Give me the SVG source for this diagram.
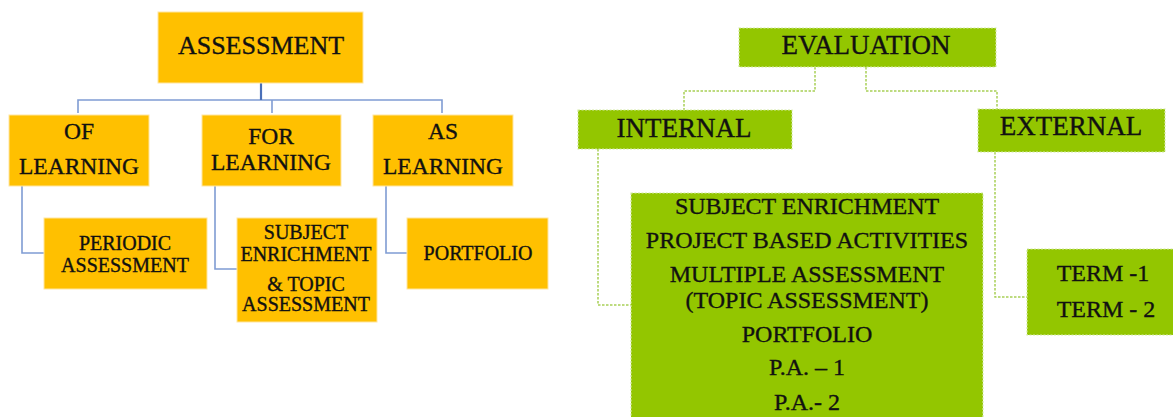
<svg xmlns="http://www.w3.org/2000/svg" width="1173" height="417" viewBox="0 0 1173 417">
<style>
.o{fill:#FFC000;stroke:#ffe6a0;stroke-width:1}
.g{fill:#93C600;stroke:#d4e9a4;stroke-width:1.2;stroke-dasharray:2 1.5}
.t{font-family:"Liberation Serif","Times New Roman",serif;fill:#111;stroke:#111;stroke-width:0.35;text-anchor:middle}
.bl{fill:none;stroke:#7F9CD3;stroke-width:1.6}
.gl{fill:none;stroke:#A8CF55;stroke-width:1.5;stroke-dasharray:2.5 1.5}
</style>
<rect width="1173" height="417" fill="#fff"/>
<g id="connectors">
<path class="bl" d="M78,113 V100 H442 V113"/>
<path class="bl" d="M272,100 V113"/>
<path d="M261,83 V100" fill="none" stroke="#4A6FB8" stroke-width="2.2"/>
<path class="bl" d="M22,186 V253 H44"/>
<path class="bl" d="M215,186 V269 H237"/>
<path class="bl" d="M386,186 V253 H407"/>
<path class="gl" d="M815,67 V91 H684 V110"/>
<path class="gl" d="M866,67 V91 H997 V109"/>
<path class="gl" d="M598,149 V305 H631"/>
<path class="gl" d="M995,152 V297 H1027"/>
</g>
<g id="assessment"><rect class="o" x="158" y="12" width="205" height="71"/><text class="t" x="261" y="54" font-size="26">ASSESSMENT</text></g>
<g id="of-learning"><rect class="o" x="9" y="115" width="140" height="71"/><text class="t" x="79" y="139" font-size="23.5">OF</text><text class="t" x="79" y="174" font-size="23.5">LEARNING</text></g>
<g id="for-learning"><rect class="o" x="202" y="115" width="139" height="71"/><text class="t" x="271" y="144" font-size="23.5">FOR</text><text class="t" x="271" y="170" font-size="23.5">LEARNING</text></g>
<g id="as-learning"><rect class="o" x="373" y="115" width="140" height="71"/><text class="t" x="443" y="139" font-size="23.5">AS</text><text class="t" x="443" y="174" font-size="23.5">LEARNING</text></g>
<g id="periodic"><rect class="o" x="44" y="218" width="163" height="71"/><text class="t" x="125" y="250" font-size="20">PERIODIC</text><text class="t" x="125" y="272" font-size="20">ASSESSMENT</text></g>
<g id="subject-enrichment"><rect class="o" x="237" y="218" width="140" height="104"/><text class="t" x="306" y="239" font-size="20">SUBJECT</text><text class="t" x="306" y="261" font-size="20">ENRICHMENT</text><text class="t" x="306" y="291" font-size="20">&amp; TOPIC</text><text class="t" x="306" y="311" font-size="20">ASSESSMENT</text></g>
<g id="portfolio"><rect class="o" x="407" y="218" width="141" height="71"/><text class="t" x="478" y="260" font-size="20">PORTFOLIO</text></g>
<g id="evaluation"><rect class="g" x="739" y="28" width="257" height="39"/><text class="t" x="866" y="54" font-size="27">EVALUATION</text></g>
<g id="internal"><rect class="g" x="578" y="110" width="214" height="39"/><text class="t" x="684" y="137" font-size="27">INTERNAL</text></g>
<g id="external"><rect class="g" x="978" y="109" width="187" height="43"/><text class="t" x="1071" y="135" font-size="27">EXTERNAL</text></g>
<g id="internal-list"><rect class="g" x="631" y="193" width="352" height="230"/>
<text class="t" x="807" y="214" font-size="24">SUBJECT ENRICHMENT</text>
<text class="t" x="807" y="248" font-size="24">PROJECT BASED ACTIVITIES</text>
<text class="t" x="807" y="282" font-size="24">MULTIPLE ASSESSMENT</text>
<text class="t" x="807" y="308" font-size="24">(TOPIC ASSESSMENT)</text>
<text class="t" x="807" y="342" font-size="24">PORTFOLIO</text>
<text class="t" x="807" y="375" font-size="24">P.A. – 1</text>
<text class="t" x="807" y="410" font-size="24">P.A.- 2</text>
</g>
<g id="terms"><rect class="g" x="1027" y="249" width="150" height="86"/><text class="t" x="1103" y="281" font-size="24">TERM -1</text><text class="t" x="1106" y="317" font-size="24">TERM - 2</text></g>
</svg>
